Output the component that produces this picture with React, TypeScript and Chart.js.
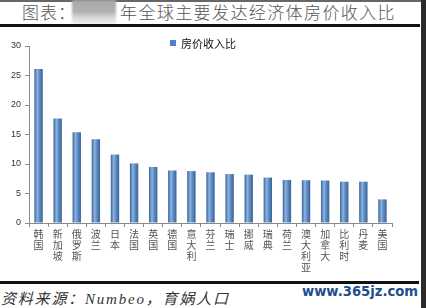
import React, { useEffect, useRef } from "react";
import { Chart, registerables } from "chart.js";

Chart.register(...registerables);

const categories: string[] = [
  "韩国", "新加坡", "俄罗斯", "波兰", "日本", "法国", "英国", "德国", "意大利", "芬兰",
  "瑞士", "挪威", "瑞典", "荷兰", "澳大利亚", "加拿大", "比利时", "丹麦", "美国",
];
const ratioValues: number[] = [
  26.1, 17.7, 15.4, 14.2, 11.6, 10.1, 9.5, 8.9, 8.8, 8.6,
  8.3, 8.2, 7.7, 7.3, 7.25, 7.2, 7.0, 7.0, 4.0,
];
const seriesName = "房价收入比";
const yTicks: number[] = [0, 5, 10, 15, 20, 25, 30];

const CJK = '"Noto Sans CJK SC", "Noto Sans", sans-serif';

export default function App() {
  const ref = useRef<HTMLCanvasElement | null>(null);

  useEffect(() => {
    if (!ref.current) return;
    const chart = new Chart(ref.current, {
      type: "bar",
      data: {
        labels: categories.map((c) => c.split("")),
        datasets: [
          {
            label: seriesName,
            data: ratioValues,
            backgroundColor: (c: any) => {
              const xs = c.chart.scales?.x;
              if (!xs || c.type !== "data") return "#4F81BD";
              const cx = xs.getPixelForValue(c.dataIndex);
              if (!Number.isFinite(cx)) return "#4F81BD";
              const w = 8;
              const g = c.chart.ctx.createLinearGradient(cx - w / 2, 0, cx + w / 2, 0);
              g.addColorStop(0, "#3c69a0");
              g.addColorStop(0.35, "#8fb3df");
              g.addColorStop(0.6, "#5f8ec6");
              g.addColorStop(1, "#3a659c");
              return g;
            },
            borderWidth: 0,
            barPercentage: 0.44,
            categoryPercentage: 1,
          },
        ],
      },
      options: {
        responsive: false,
        animation: false,
        layout: { padding: { top: 16, right: 28, bottom: 5, left: 0 } },
        plugins: {
          legend: { display: false },
          tooltip: { enabled: false },
        },
        scales: {
          x: {
            grid: {
              display: true,
              drawOnChartArea: false,
              drawTicks: true,
              tickLength: 4,
              color: "#8a8a8a",
              offset: true,
            },
            border: { display: true, color: "#8a8a8a", width: 1 },
            ticks: {
              autoSkip: false,
              maxRotation: 0,
              minRotation: 0,
              padding: 2,
              color: "#555",
              font: { family: CJK, size: 10, lineHeight: 1.1 },
            },
          },
          y: {
            min: 0,
            max: 30,
            afterFit: (s: any) => {
              s.width = 29;
            },
            afterBuildTicks: (s: any) => {
              s.ticks = yTicks.map((v) => ({ value: v }));
            },
            grid: {
              display: true,
              drawOnChartArea: false,
              drawTicks: true,
              tickLength: 4,
              color: "#8a8a8a",
            },
            border: { display: true, color: "#8a8a8a", width: 1 },
            ticks: {
              padding: 4,
              color: "#333",
              font: { family: '"Liberation Sans", Arial, sans-serif', size: 9 },
            },
          },
        },
      },
    });
    return () => chart.destroy();
  }, []);

  return (
    <div
      style={{
        position: "fixed",
        left: 0,
        top: 0,
        width: 426,
        height: 308,
        background: "#fff",
        overflow: "hidden",
      }}
    >
      <div style={{ position: "absolute", left: 0, top: 0, width: 421, height: 2, background: "#666" }} />
      <div
        style={{
          position: "absolute",
          left: 72,
          top: 0,
          width: 44,
          height: 24,
          background: "linear-gradient(#a9a9a9 0%, #b0b0b0 50%, #d6d6d6 70%, #eeeeee 100%)",
          filter: "blur(1px)",
        }}
      />
      <div
        style={{
          position: "absolute",
          left: 22,
          top: 2,
          fontFamily: CJK,
          fontSize: 17,
          fontWeight: 300,
          lineHeight: "20px",
          color: "#555",
          whiteSpace: "nowrap",
          letterSpacing: 1,
        }}
      >
        图表：
      </div>
      <div
        style={{
          position: "absolute",
          left: 120,
          top: 2,
          fontFamily: CJK,
          fontSize: 17,
          fontWeight: 300,
          lineHeight: "20px",
          color: "#555",
          whiteSpace: "nowrap",
          letterSpacing: 1.4,
        }}
      >
        年全球主要发达经济体房价收入比
      </div>
      <div style={{ position: "absolute", left: 0, top: 23.5, width: 420, height: 3, background: "#111" }} />

      <canvas
        ref={ref}
        width={420}
        height={250}
        style={{ position: "absolute", left: 0, top: 30, width: 420, height: 250 }}
      />

      <div
        style={{
          position: "absolute",
          left: 170,
          top: 36,
          display: "flex",
          alignItems: "center",
          fontFamily: CJK,
          fontSize: 11,
          lineHeight: "14px",
          color: "#111",
          whiteSpace: "nowrap",
        }}
      >
        <span style={{ display: "inline-block", width: 6, height: 6, background: "#4F81BD", marginRight: 5 }} />
        {seriesName}
      </div>

      <div style={{ position: "absolute", left: 0, top: 280.5, width: 419, height: 3, background: "#111" }} />
      <div
        style={{
          position: "absolute",
          left: 1,
          top: 290,
          fontFamily: '"Liberation Serif", "Noto Sans CJK SC", serif',
          fontStyle: "italic",
          fontSize: 15,
          lineHeight: "18px",
          color: "#333",
          whiteSpace: "nowrap",
          letterSpacing: 1.8,
        }}
      >
        资料来源：Numbeo，育娲人口
      </div>
      <div
        style={{
          position: "absolute",
          left: 302,
          top: 283,
          fontFamily: '"DejaVu Sans", Verdana, sans-serif',
          fontWeight: "bold",
          fontSize: 13.2,
          lineHeight: "17px",
          color: "#1d4e8c",
          whiteSpace: "nowrap",
        }}
      >
        www.365jz.com
      </div>
      <div style={{ position: "absolute", left: 421, top: 0, width: 5, height: 308, background: "#2b2b2b" }} />
    </div>
  );
}
